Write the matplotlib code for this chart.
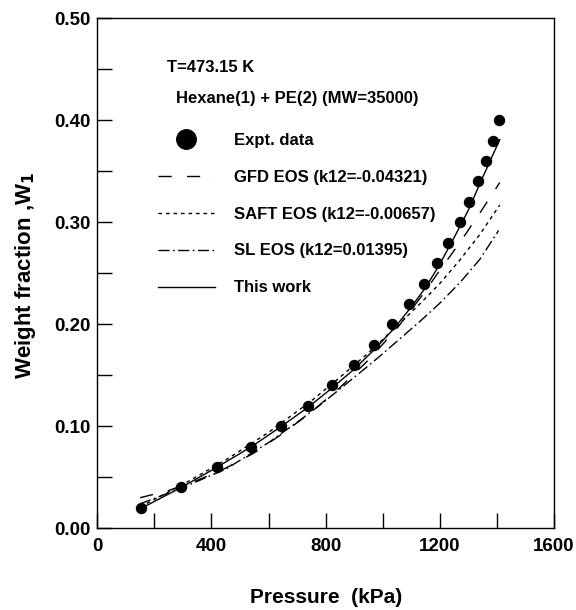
import matplotlib
matplotlib.use("Agg")
import matplotlib.pyplot as plt
from matplotlib.ticker import MultipleLocator, FormatStrFormatter

plt.rcParams['font.family'] = ['Liberation Sans', 'DejaVu Sans']
plt.rcParams['font.weight'] = 'bold'

# Experimental solubility data: hexane(1) + PE(2), T = 473.15 K
expt_p = [153, 292, 420, 537, 643, 737, 822, 900, 968, 1034,
          1091, 1144, 1189, 1230, 1271, 1303, 1335, 1361, 1385, 1409]
expt_w = [0.02, 0.04, 0.06, 0.08, 0.10, 0.12, 0.14, 0.16, 0.18, 0.20,
          0.22, 0.24, 0.26, 0.28, 0.30, 0.32, 0.34, 0.36, 0.38, 0.40]

# GFD EOS (k12 = -0.04321)
gfd_p = [150, 250, 350, 450, 550, 650, 750, 850, 950, 1050, 1140, 1200, 1270, 1340, 1410]
gfd_w = [0.030, 0.037, 0.047, 0.059, 0.074, 0.093, 0.114, 0.138, 0.165, 0.196,
         0.229, 0.253, 0.280, 0.309, 0.339]

# SAFT EOS (k12 = -0.00657)
saft_p = [150, 300, 450, 600, 750, 850, 950, 1060, 1130, 1200, 1270, 1340, 1410]
saft_w = [0.021, 0.043, 0.067, 0.094, 0.125, 0.148, 0.172, 0.201, 0.220, 0.240,
          0.263, 0.288, 0.317]

# SL EOS (k12 = 0.01395)
sl_p = [150, 300, 450, 600, 710, 781, 852, 922, 991, 1061, 1131, 1201, 1271, 1341, 1406]
sl_w = [0.024, 0.040, 0.058, 0.084, 0.106, 0.121, 0.137, 0.153, 0.169, 0.186,
        0.203, 0.221, 0.241, 0.264, 0.292]

# This work
tw_p = [150, 300, 420, 540, 640, 740, 820, 900, 970, 1040, 1100, 1150, 1200, 1250,
        1300, 1350, 1410]
tw_w = [0.019, 0.041, 0.060, 0.080, 0.099, 0.119, 0.137, 0.156, 0.175, 0.196,
        0.217, 0.236, 0.259, 0.285, 0.312, 0.344, 0.381]

fig = plt.figure(figsize=(5.76, 6.10), dpi=100)
ax = fig.add_axes([97.3 / 576, 1 - 528.3 / 610, 456.7 / 576, 510 / 610])

ax.plot(expt_p, expt_w, 'o', color='black', markersize=7.2, label='Expt. data')
ax.plot(gfd_p, gfd_w, color='black', lw=1.0, linestyle=(0, (9.5, 11)),
        label='GFD EOS (k12=-0.04321)')
ax.plot(saft_p, saft_w, color='black', lw=1.0, linestyle=(0, (2.6, 2.8)),
        label='SAFT EOS (k12=-0.00657)')
ax.plot(sl_p, sl_w, color='black', lw=1.0, linestyle=(0, (8, 2.5, 1.2, 2.5)),
        label='SL EOS (k12=0.01395)')
ax.plot(tw_p, tw_w, color='black', lw=1.0, label='This work')

ax.set_xlim(0, 1600)
ax.set_ylim(0, 0.5)
ax.xaxis.set_major_locator(MultipleLocator(400))
ax.xaxis.set_minor_locator(MultipleLocator(200))
ax.yaxis.set_major_locator(MultipleLocator(0.1))
ax.yaxis.set_minor_locator(MultipleLocator(0.05))
ax.yaxis.set_major_formatter(FormatStrFormatter('%.2f'))

ax.tick_params(which='both', direction='in', length=11, width=1.0,
               top=False, right=False)
ax.tick_params(axis='y', which='major', pad=5, labelsize=13.5)
ax.tick_params(axis='x', which='major', pad=7, labelsize=13.5)
for sp in ax.spines.values():
    sp.set_linewidth(1.0)

ax.set_xlabel('Pressure  (kPa)', fontsize=15, fontweight='bold')
ax.xaxis.set_label_coords(0.5, -0.135)
ax.xaxis.label.set_va('center')
ax.set_ylabel('Weight fraction ,W$_\\mathbf{1}$', fontsize=16, fontweight='bold')
ax.yaxis.set_label_coords(-0.158, 0.496)
ax.yaxis.label.set_va('center')

ax.text((167 - 97.3) / 456.7, (528.3 - 68) / 510, 'T=473.15 K', fontsize=12,
        fontweight='bold', transform=ax.transAxes, ha='left', va='center')
ax.text((176 - 97.3) / 456.7, (528.3 - 98) / 510, 'Hexane(1) + PE(2) (MW=35000)',
        fontsize=12, fontweight='bold', transform=ax.transAxes, ha='left', va='center')

leg = ax.legend(loc='upper left', bbox_to_anchor=((158 - 97.3) / 456.7, (528.3 - 133) / 510),
                frameon=False, fontsize=12, markerscale=1.95, handlelength=3.4,
                handletextpad=1.14, labelspacing=1.31, borderpad=0, borderaxespad=0)
for t in leg.get_texts():
    t.set_fontweight('bold')

fig.savefig('out.png', dpi=100)
